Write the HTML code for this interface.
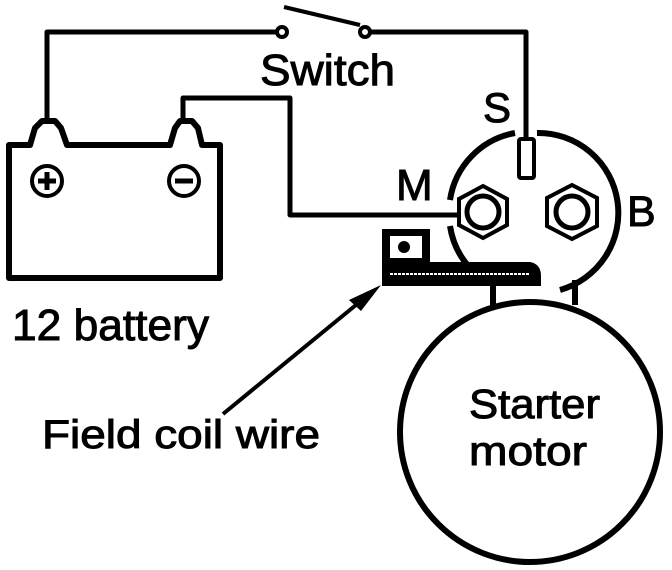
<!DOCTYPE html>
<html><head><style>html,body{margin:0;padding:0;background:#fff}svg{display:block}</style></head>
<body>
<svg width="672" height="570" viewBox="0 0 672 570" xmlns="http://www.w3.org/2000/svg" font-family="Liberation Sans, sans-serif">
<g fill="none" stroke="#000" stroke-width="5" stroke-linejoin="round">
  <polyline points="47,120 47,32 277,32"/>
  <polyline points="370,32 526,32 526,140"/>
  <polyline points="183,120 183,98 290,98 290,215 458,215"/>
  <circle cx="282" cy="32" r="5" stroke-width="4"/>
  <circle cx="365" cy="32" r="5" stroke-width="4"/>
  <line x1="284" y1="7" x2="360" y2="25" stroke-width="4"/>
  <path d="M9,278 L9,145 L30,145 L35,128 L42,121 L55,121 L61,128 L67,145 L170,145 L175,128 L180,121 L192,121 L198,128 L202,145 L220,145 L220,278 Z" stroke-width="6"/>
  <circle cx="47" cy="181" r="15" stroke-width="4"/>
  <circle cx="184" cy="181" r="15" stroke-width="4"/>
</g>
<g stroke="#000" stroke-width="5">
  <line x1="38" y1="181" x2="56" y2="181"/><line x1="47" y1="172" x2="47" y2="190"/>
  <line x1="175" y1="181" x2="193" y2="181"/>
</g>
<g fill="none" stroke="#000" stroke-width="6">
  <path d="M515,133 A80,80 0 0 0 450,200"/>
  <path d="M537,133 A80,80 0 0 1 560,290"/>
  <path d="M450,226 A80,80 0 0 0 470,268"/>
  <rect x="519" y="139" width="15" height="39" rx="2" stroke-width="4"/>
  <polygon points="483,186 507,199 507,225 483,238 459,225 459,199" stroke-width="4"/>
  <circle cx="483" cy="212" r="16" stroke-width="5"/>
  <polygon points="572,185 597,198 597,226 572,239 547,226 547,198" stroke-width="4"/>
  <circle cx="572" cy="212" r="16" stroke-width="5"/>
  <line x1="493" y1="286" x2="493" y2="308"/>
  <line x1="575" y1="280" x2="575" y2="305"/>
</g>
<path d="M382,229 L430,229 L430,262 L530,262 Q541,264 541,276 L541,286 L382,286 Z" fill="#000"/>
<rect x="390" y="236" width="32" height="22" fill="#fff"/>
<circle cx="404" cy="247" r="6" fill="#000"/>
<line x1="390" y1="274" x2="530" y2="274" stroke="#fff" stroke-width="2" stroke-dasharray="3,1"/>
<circle cx="530" cy="432" r="130" fill="#fff" stroke="#000" stroke-width="6"/>
<line x1="223" y1="414" x2="362" y2="300" stroke="#000" stroke-width="4"/>
<polygon points="381,285 349,300 361,311" fill="#000"/>
<g fill="#000" stroke="#000" stroke-width="1">
  <text x="260" y="85" font-size="44" textLength="135" lengthAdjust="spacingAndGlyphs">Switch</text>
  <text x="483" y="122" font-size="42">S</text>
  <text x="396" y="200" font-size="44">M</text>
  <text x="627" y="226" font-size="43">B</text>
  <text x="12" y="340" font-size="44" textLength="197" lengthAdjust="spacingAndGlyphs">12 battery</text>
  <text x="42" y="448" font-size="40" textLength="278" lengthAdjust="spacingAndGlyphs">Field coil wire</text>
  <text x="469" y="418" font-size="41" textLength="131" lengthAdjust="spacingAndGlyphs">Starter</text>
  <text x="469" y="465" font-size="41" textLength="118" lengthAdjust="spacingAndGlyphs">motor</text>
</g>
</svg>
</body></html>
